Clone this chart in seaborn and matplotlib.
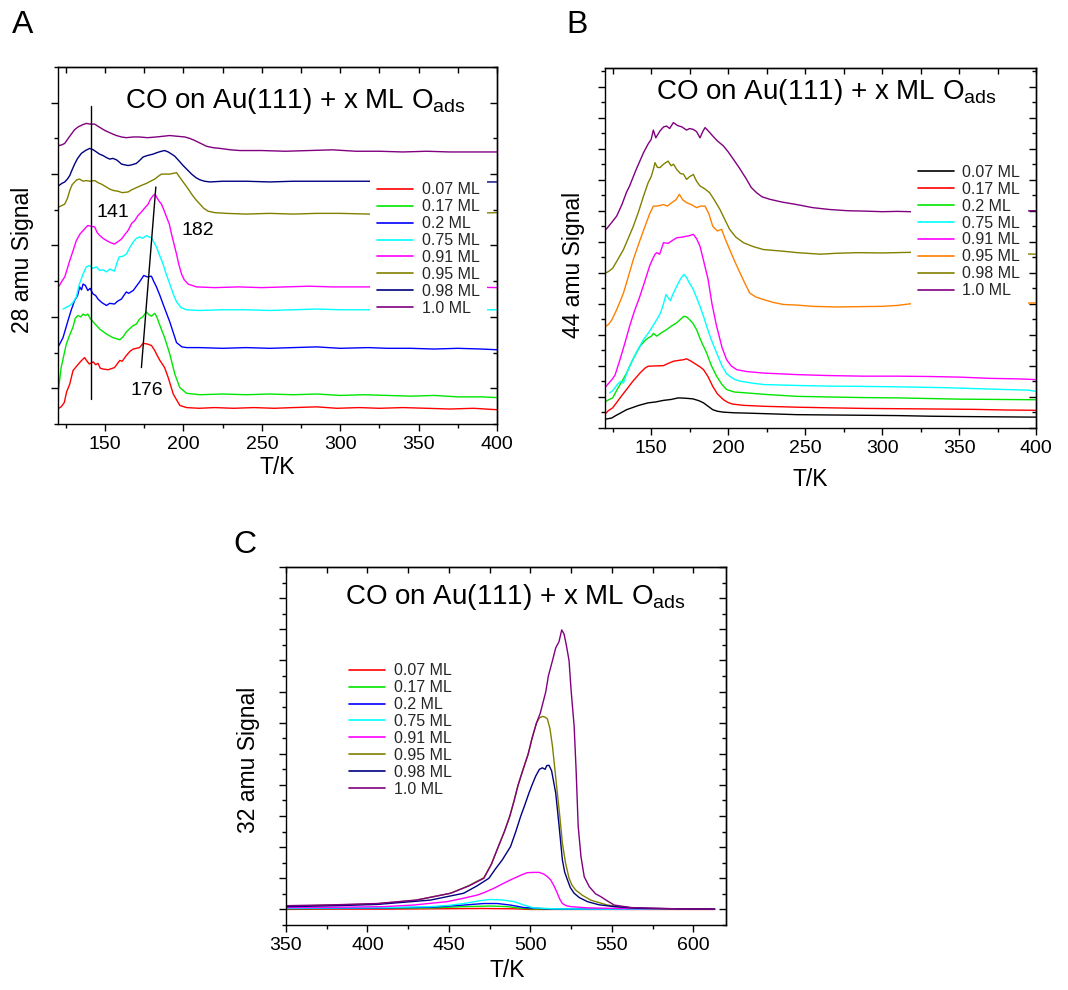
import matplotlib
matplotlib.use("Agg")
import matplotlib.pyplot as plt
from matplotlib.lines import Line2D
from matplotlib.ticker import MultipleLocator, NullFormatter
import pandas as pd
import seaborn as sns

# ---------------------------------------------------------------- data
COVERAGES = ["0.07 ML", "0.17 ML", "0.2 ML", "0.75 ML",
             "0.91 ML", "0.95 ML", "0.98 ML", "1.0 ML"]
COLORS_AC = ["#ff0000", "#00e600", "#0000ff", "#00ffff",
             "#ff00ff", "#808000", "#000080", "#800080"]
COLORS_B = ["#000000", "#ff0000", "#00e600", "#00ffff",
            "#ff00ff", "#ff8000", "#808000", "#800080"]

# Panel A: 28 amu (CO) desorption traces, (T/K, offset signal)
A_007 = [(120.5, -0.28), (122, -0.26), (124, -0.2), (125.5, -0.05), (127.5, 0.06), (129.6, 0.25),
         (131.5, 0.3), (133.8, 0.36), (135.5, 0.4), (137, 0.43), (138.5, 0.38), (140, 0.34),
         (142.5, 0.37), (144, 0.33), (145.5, 0.35), (147, 0.28), (148.7, 0.27), (152, 0.26),
         (156, 0.29), (159.4, 0.39), (161, 0.38), (163.6, 0.46), (166, 0.52), (168, 0.55),
         (172, 0.57), (174.3, 0.63), (177, 0.62), (179.6, 0.6), (181.7, 0.53), (183, 0.47),
         (185, 0.39), (188, 0.29), (190.3, 0.15), (193.5, -0.08), (197.7, -0.24), (202, -0.27),
         (210, -0.28), (220, -0.27), (232, -0.28), (245, -0.27), (258, -0.28), (270, -0.27),
         (285, -0.26), (298, -0.28), (312, -0.27), (325, -0.28), (340, -0.27), (355, -0.28),
         (370, -0.29), (385, -0.28), (400, -0.3)]
A_017 = [(120.3, -0.02), (122, 0.29), (125.3, 0.62), (127.5, 0.75), (129.6, 0.86), (131, 0.98),
         (132.8, 1.02), (134.5, 1.0), (136, 1.04), (137.5, 1.02), (139, 1.04), (140.5, 0.98),
         (142.4, 0.93), (144.5, 0.88), (146.6, 0.83), (150.9, 0.76), (155, 0.71), (159.4, 0.68),
         (161.5, 0.72), (163.6, 0.79), (166, 0.84), (168, 0.88), (170, 0.9), (172, 0.97),
         (174, 1.0), (176.4, 1.07), (178, 1.03), (179.6, 1.01), (181.7, 1.05), (183, 1.0),
         (185, 0.88), (188, 0.71), (191.3, 0.48), (194.5, 0.2), (197.7, 0.01), (202, -0.07),
         (210.5, -0.09), (225, -0.08), (240, -0.09), (255, -0.08), (270, -0.09), (285, -0.08),
         (300, -0.1), (315, -0.09), (330, -0.1), (345, -0.11), (360, -0.1), (375, -0.12),
         (390, -0.12), (400, -0.13)]
A_02 = [(120.6, 0.6), (123.2, 0.71), (126.4, 0.95), (128.5, 1.1), (130.6, 1.23), (132.5, 1.3),
        (133.8, 1.42), (135, 1.38), (136, 1.46), (137.5, 1.44), (139, 1.37), (140.5, 1.4),
        (142.4, 1.32), (144, 1.3), (145.5, 1.25), (148, 1.2), (150.9, 1.16), (153, 1.19),
        (156, 1.18), (158, 1.22), (160.5, 1.25), (162, 1.3), (163.6, 1.35), (165, 1.33),
        (168, 1.37), (170, 1.43), (172, 1.49), (174.7, 1.58), (177, 1.56), (179.6, 1.57),
        (181, 1.5), (182.8, 1.42), (185, 1.3), (187, 1.18), (191.3, 0.93), (195.6, 0.64),
        (199, 0.58), (202, 0.57), (210.5, 0.57), (225, 0.56), (240, 0.57), (255, 0.56),
        (270, 0.57), (285, 0.58), (300, 0.56), (318, 0.57), (330, 0.56), (345, 0.56),
        (360, 0.55), (375, 0.56), (390, 0.55), (400, 0.54)]
A_075 = [(123.2, 1.11), (125, 1.13), (127.5, 1.16), (129.5, 1.2), (131.7, 1.28), (133.5, 1.45),
         (136, 1.6), (138, 1.7), (140.2, 1.72), (142, 1.68), (144.5, 1.7), (146.5, 1.65),
         (148.7, 1.66), (151, 1.63), (153, 1.67), (156, 1.64), (157.5, 1.75), (159, 1.84),
         (161.5, 1.85), (163.6, 1.88), (166, 1.98), (168, 2.05), (170, 2.1), (172, 2.12),
         (174, 2.1), (176.4, 2.14), (178, 2.12), (179.6, 2.11), (181, 2.05), (182.8, 1.98),
         (185, 1.85), (187, 1.74), (189, 1.6), (191.3, 1.46), (193.5, 1.32), (195.6, 1.21),
         (198.5, 1.13), (202, 1.1), (210, 1.09), (225, 1.1), (240, 1.1), (255, 1.09),
         (270, 1.1), (285, 1.11), (300, 1.1), (318, 1.1), (340, 1.11), (360, 1.1),
         (380, 1.1), (400, 1.1)]
A_091 = [(120.6, 1.43), (122.5, 1.5), (124.3, 1.56), (126, 1.68), (127.5, 1.79), (129.5, 1.92),
         (131.7, 2.07), (134, 2.16), (136, 2.21), (139, 2.28), (141, 2.27), (143.4, 2.26),
         (145, 2.18), (146.6, 2.14), (148.7, 2.1), (150.9, 2.07), (153.5, 2.04), (156, 2.02),
         (158, 2.05), (160.5, 2.09), (162.5, 2.15), (164.7, 2.21), (167, 2.31), (169, 2.35),
         (171, 2.42), (173.2, 2.47), (175.5, 2.53), (177.5, 2.58), (179, 2.65), (180.7, 2.7),
         (182, 2.72), (182.8, 2.68), (184.5, 2.62), (186, 2.58), (187.5, 2.5), (189.2, 2.4),
         (191, 2.3), (192.4, 2.16), (194, 2.02), (195.6, 1.88), (197, 1.74), (198.8, 1.6),
         (200.5, 1.52), (203, 1.46), (208.4, 1.42), (220, 1.41), (235, 1.42), (250, 1.41),
         (265, 1.42), (280, 1.43), (295, 1.42), (318, 1.42), (340, 1.42), (360, 1.41),
         (380, 1.42), (400, 1.41)]
A_095 = [(120.6, 2.54), (122.5, 2.56), (124.3, 2.58), (126, 2.66), (127.5, 2.77), (129, 2.85),
         (130.6, 2.89), (132, 2.92), (133.8, 2.93), (136, 2.9), (138, 2.91), (140.5, 2.9),
         (143.4, 2.91), (145.5, 2.88), (147.7, 2.86), (150, 2.83), (153, 2.79), (155.5, 2.77),
         (158.3, 2.76), (161, 2.74), (164.7, 2.75), (167, 2.78), (170, 2.81), (173, 2.84),
         (176.4, 2.87), (179, 2.9), (181.7, 2.93), (184, 2.97), (186, 3.0), (188.5, 3.0),
         (191.3, 3.0), (193.5, 3.01), (195.6, 3.02), (197.5, 2.96), (199.8, 2.89), (202.5, 2.81),
         (205.2, 2.72), (208, 2.64), (210.5, 2.58), (213, 2.52), (215.8, 2.48), (220, 2.46),
         (227.5, 2.45), (240, 2.44), (255, 2.45), (270, 2.44), (285, 2.45), (300, 2.45),
         (318, 2.44), (340, 2.45), (360, 2.45), (380, 2.45), (400, 2.46)]
A_098 = [(120.6, 2.84), (122.5, 2.87), (124.3, 2.89), (126, 2.93), (127.5, 2.98), (129, 3.06),
         (130.6, 3.14), (132.5, 3.22), (134.9, 3.29), (137.5, 3.33), (140.2, 3.36), (142.5, 3.34),
         (144.5, 3.31), (146.5, 3.28), (148.7, 3.26), (151, 3.23), (153, 3.21), (155, 3.22),
         (157.3, 3.2), (159, 3.17), (160.5, 3.14), (162.5, 3.13), (164.7, 3.12), (167, 3.13),
         (170, 3.15), (172, 3.19), (174.3, 3.24), (177, 3.26), (180.7, 3.28), (183, 3.3),
         (186, 3.32), (188, 3.33), (190.3, 3.31), (192.5, 3.28), (194.5, 3.25), (197, 3.19),
         (199.8, 3.12), (202.5, 3.06), (205.2, 3.0), (208, 2.95), (210.5, 2.92), (213.5, 2.9),
         (216.9, 2.89), (225, 2.9), (240, 2.9), (255, 2.89), (270, 2.9), (285, 2.9),
         (300, 2.9), (318, 2.9), (340, 2.9), (360, 2.9), (380, 2.89), (400, 2.89)]
A_10 = [(120.6, 3.4), (122.5, 3.41), (124.3, 3.43), (126.5, 3.5), (128.5, 3.56), (130.5, 3.62),
        (132.8, 3.66), (135.5, 3.69), (138.1, 3.71), (140.5, 3.7), (143.4, 3.7), (145.5, 3.67),
        (147.7, 3.64), (150, 3.61), (152, 3.59), (155, 3.56), (157.3, 3.54), (160.5, 3.52),
        (163.6, 3.51), (168, 3.52), (172, 3.52), (177, 3.51), (182.8, 3.52), (187, 3.53),
        (191.3, 3.54), (196, 3.53), (200.9, 3.52), (204, 3.5), (207.3, 3.47), (211, 3.43),
        (214.7, 3.39), (219, 3.37), (223.3, 3.36), (230, 3.34), (236, 3.33), (250, 3.33),
        (265, 3.32), (280, 3.33), (295, 3.34), (310, 3.32), (325, 3.32), (340, 3.31),
        (355, 3.32), (370, 3.31), (385, 3.31), (400, 3.31)]

# Panel B: 44 amu (CO2) traces
B_007 = [(120.7, 0.29), (122, 0.3), (124.3, 0.32), (127, 0.4), (130, 0.48), (134, 0.59),
         (138, 0.66), (142, 0.73), (148, 0.81), (153, 0.84), (158, 0.89), (163, 0.92),
         (167.6, 0.97), (172, 0.96), (177, 0.94), (181, 0.88), (184, 0.81), (187, 0.7),
         (190, 0.59), (193, 0.54), (197, 0.51), (204, 0.49), (212, 0.48), (225, 0.46),
         (244.5, 0.43), (265, 0.42), (288, 0.41), (310, 0.4), (331, 0.38), (350, 0.37),
         (375, 0.36), (400, 0.35)]
B_017 = [(120.7, 0.48), (122, 0.55), (125, 0.65), (128, 0.85), (131, 1.05), (134, 1.24),
         (138, 1.5), (142.7, 1.77), (146, 1.93), (148, 1.99), (153, 2.0), (158, 2.01),
         (161, 2.08), (164.4, 2.15), (168, 2.18), (171, 2.2), (173, 2.23), (176, 2.15),
         (179.5, 2.04), (182, 1.96), (184, 1.88), (187, 1.65), (190, 1.34), (193, 1.1),
         (197, 0.91), (200, 0.82), (203, 0.77), (210, 0.73), (223, 0.7), (245, 0.67),
         (266, 0.65), (290, 0.63), (315, 0.62), (340, 0.61), (360, 0.6), (380, 0.58),
         (400, 0.57)]
B_02 = [(120.7, 0.86), (122, 0.9), (125, 0.97), (128, 1.25), (131, 1.5), (134, 1.77),
        (138, 2.2), (142.7, 2.63), (146, 2.82), (148, 2.9), (150, 2.95), (151.5, 3.05),
        (153.6, 2.96), (157, 3.08), (160, 3.17), (163, 3.28), (166.6, 3.39), (169, 3.5),
        (171.3, 3.6), (173, 3.58), (175, 3.49), (177, 3.38), (179.5, 3.17), (182, 2.85),
        (186, 2.42), (189, 2.02), (192.5, 1.67), (196, 1.4), (199, 1.24), (204, 1.16),
        (212, 1.13), (225, 1.08), (244.5, 1.02), (265, 1.0), (288, 0.98), (310, 0.97),
        (330, 0.95), (350, 0.93), (375, 0.92), (400, 0.91)]
B_075 = [(123, 1.13), (125, 1.2), (128, 1.4), (130, 1.5), (132, 1.45), (134, 1.75),
         (136, 1.99), (140, 2.4), (145, 2.85), (148, 3.05), (150, 3.2), (153.6, 3.49),
         (156, 3.7), (158, 4.0), (159.6, 4.3), (161, 4.2), (162.5, 4.1), (164, 4.3),
         (166.6, 4.57), (169, 4.8), (171.3, 4.95), (173, 4.85), (174.5, 4.7), (177.4, 4.46),
         (179.5, 4.2), (181.7, 3.92), (184, 3.6), (186, 3.28), (189, 2.85), (192.5, 2.42),
         (196, 2.0), (199, 1.75), (201, 1.67), (204, 1.57), (207.7, 1.51), (215, 1.45),
         (223, 1.4), (245, 1.37), (265, 1.35), (288, 1.34), (305, 1.33), (318, 1.32),
         (340, 1.3), (360, 1.27), (380, 1.24), (395, 1.22), (400, 1.18)]
B_091 = [(120.7, 1.34), (122.5, 1.45), (124.5, 1.56), (126.5, 1.7), (129.7, 2.2), (133, 2.75),
         (136, 3.28), (139, 3.75), (142.7, 4.25), (146, 4.75), (149, 5.22), (151, 5.45),
         (152.5, 5.6), (153.6, 5.65), (155.5, 5.6), (158, 5.97), (161, 5.95), (164, 6.05),
         (166.6, 6.13), (170, 6.15), (173, 6.18), (175, 6.2), (177.4, 6.24), (179.5, 6.1),
         (181.7, 5.86), (184, 5.4), (187, 4.78), (189.5, 4.0), (192.5, 3.28), (196, 2.6),
         (199, 2.2), (202, 2.0), (205.5, 1.88), (212, 1.82), (223, 1.77), (245, 1.72),
         (265, 1.69), (288, 1.67), (310, 1.67), (330, 1.66), (350, 1.64), (370, 1.6),
         (390, 1.58), (400, 1.56)]
B_095 = [(120.7, 3.28), (122.5, 3.35), (124.5, 3.49), (127, 3.75), (130, 4.1), (132, 4.35),
         (135, 4.85), (138.4, 5.43), (142, 5.95), (146, 6.5), (149, 6.9), (151.4, 7.15),
         (154, 7.15), (158, 7.2), (160.5, 7.15), (163.3, 7.26), (166, 7.35), (168.3, 7.53),
         (170.5, 7.35), (173, 7.26), (176, 7.2), (179.5, 7.1), (182, 7.15), (185, 7.15),
         (187.5, 6.9), (190, 6.5), (193, 6.35), (195.8, 6.4), (198, 6.1), (201, 5.75),
         (204, 5.4), (207.7, 5.0), (211, 4.65), (214, 4.35), (218, 4.22), (222.9, 4.14),
         (229, 4.05), (235.9, 3.98), (245, 3.96), (255, 3.92), (270, 3.9), (285, 3.91),
         (300, 3.92), (310, 3.95), (318, 4.0), (340, 4.0), (360, 4.01), (380, 4.02),
         (400, 4.03)]
B_098 = [(120.7, 5.0), (122.5, 5.05), (125, 5.15), (128, 5.4), (132, 5.75), (135, 6.1),
         (138.4, 6.5), (142, 7.0), (145, 7.47), (148, 7.9), (150, 8.1), (151.4, 8.33),
         (152.5, 8.55), (154, 8.4), (155.7, 8.39), (158, 8.5), (161, 8.6), (163, 8.45),
         (164.5, 8.5), (166.6, 8.33), (169, 8.2), (171, 8.18), (173, 8.01), (175, 8.1),
         (177.4, 8.17), (179.5, 7.95), (181.7, 7.8), (185, 7.7), (188, 7.58), (191, 7.35),
         (194.7, 7.04), (198, 6.7), (201, 6.4), (205, 6.15), (210, 5.97), (216, 5.85),
         (222.9, 5.75), (235, 5.7), (245, 5.65), (260, 5.6), (270, 5.63), (285, 5.65),
         (300, 5.64), (318, 5.66), (340, 5.65), (360, 5.64), (380, 5.63), (400, 5.6)]
B_10 = [(120.7, 6.4), (124, 6.6), (127.6, 6.83), (131, 7.2), (134, 7.6), (136, 7.8),
        (140, 8.3), (145, 8.87), (148, 9.15), (150, 9.3), (151.4, 9.6), (153, 9.35),
        (155.7, 9.57), (158, 9.7), (160, 9.73), (162, 9.65), (164.4, 9.84), (167, 9.75),
        (170, 9.7), (173, 9.6), (175, 9.65), (177.4, 9.62), (179.5, 9.55), (181.7, 9.35),
        (183.5, 9.55), (185, 9.68), (187.5, 9.55), (190, 9.41), (193, 9.25), (196.9, 9.09),
        (200, 8.9), (203.4, 8.66), (207, 8.4), (212, 8.01), (215, 7.75), (218.5, 7.58),
        (222, 7.45), (227, 7.37), (235, 7.28), (244.5, 7.2), (255, 7.1), (266, 7.04),
        (278, 7.0), (288, 6.99), (300, 6.97), (310, 6.98), (318, 6.97), (340, 6.97),
        (360, 6.98), (380, 6.99), (400, 7.0)]

# Panel C: 32 amu (O2) traces
C_007 = [(350, 0.0), (380, 0.01), (410, 0.01), (440, 0.02), (470, 0.03), (490, 0.02),
         (500, 0.0), (520, 0.0), (550, 0.0), (580, 0.0), (613, 0.0)]
C_017 = [(350, 0.02), (380, 0.03), (410, 0.04), (440, 0.05), (459, 0.09), (468, 0.1),
         (475.5, 0.11), (485.8, 0.09), (492, 0.05), (500, 0.02), (520, 0.01), (560, 0.01),
         (613, 0.01)]
C_02 = [(350, 0.03), (380, 0.04), (410, 0.05), (438.6, 0.07), (459, 0.14), (471.4, 0.19),
        (479.6, 0.19), (487.8, 0.14), (496, 0.06), (510, 0.02), (540, 0.01), (580, 0.01),
        (613, 0.01)]
C_075 = [(350, 0.04), (380, 0.05), (410, 0.06), (438.6, 0.09), (450, 0.13), (459, 0.19),
         (469, 0.28), (475.5, 0.32), (483.7, 0.3), (490, 0.25), (496, 0.14), (502, 0.05),
         (515, 0.02), (550, 0.01), (613, 0.01)]
C_091 = [(350, 0.06), (380, 0.07), (410, 0.09), (428, 0.14), (448.9, 0.25), (458, 0.35),
         (467.3, 0.46), (472, 0.55), (477.6, 0.68), (482, 0.8), (487.8, 0.95), (492, 1.05),
         (495, 1.12), (498, 1.18), (502, 1.19), (505.3, 1.19), (508, 1.14), (510, 1.07),
         (512.4, 0.95), (514.5, 0.75), (516.5, 0.52), (518, 0.33), (519.6, 0.19), (522, 0.12),
         (524.7, 0.09), (535, 0.05), (555, 0.03), (580, 0.02), (613, 0.01)]
C_095 = [(350, 0.1), (380, 0.14), (405.8, 0.18), (430, 0.3), (451, 0.52), (462, 0.76),
         (471.4, 1.02), (476, 1.45), (480.3, 2.02), (484, 2.5), (487.3, 2.99), (490, 3.5),
         (492.4, 3.99), (495.5, 4.5), (498.6, 4.99), (501, 5.5), (503.7, 5.99), (505.5, 6.15),
         (507.3, 6.2), (509, 6.18), (510.4, 6.12), (512, 5.8), (513.5, 5.25), (515, 4.5),
         (516.5, 3.74), (518, 3.0), (519.6, 2.13), (521.5, 1.5), (523.7, 1.0), (525.5, 0.78),
         (527.8, 0.62), (532, 0.45), (537, 0.3), (542, 0.22), (547.3, 0.14), (555, 0.08),
         (570, 0.03), (590, 0.02), (613, 0.01)]
C_098 = [(350, 0.09), (380, 0.12), (405.8, 0.16), (438.6, 0.3), (459, 0.52), (467, 0.75),
         (474.5, 1.0), (478.5, 1.3), (482.7, 1.59), (487.8, 2.02), (491, 2.5), (494, 2.99),
         (496.5, 3.35), (499.1, 3.74), (501, 4.0), (503.2, 4.28), (505.5, 4.5), (507.3, 4.55),
         (509, 4.5), (510, 4.62), (511.4, 4.63), (513, 4.45), (515.5, 3.74), (517.6, 2.67),
         (519.6, 1.59), (521, 1.2), (522.7, 0.95), (524.5, 0.7), (526.8, 0.52), (530, 0.38),
         (535, 0.25), (542, 0.15), (551.4, 0.09), (565, 0.04), (590, 0.02), (613, 0.01)]
C_10 = [(350, 0.12), (380, 0.15), (405.8, 0.19), (430, 0.3), (451, 0.52), (462, 0.75),
        (471.4, 1.0), (476, 1.45), (480.3, 2.02), (484, 2.5), (487.3, 2.99), (490, 3.5),
        (492.4, 3.99), (495.5, 4.5), (498.6, 4.99), (501, 5.5), (503.7, 5.99), (506, 6.3),
        (509.4, 6.99), (511, 7.5), (513.5, 7.99), (515.5, 8.4), (517.5, 8.6), (519.2, 8.98),
        (520.6, 8.85), (522, 8.5), (523.7, 7.99), (525, 7.0), (526.8, 5.9), (528, 4.5),
        (529.3, 2.67), (531, 1.7), (533, 1.05), (536.1, 0.73), (540, 0.5), (543.2, 0.41),
        (547, 0.28), (551.4, 0.14), (561.7, 0.06), (575, 0.04), (590, 0.02), (613, 0.01)]

PEAK_LINE_T = 141            # vertical guide through the low-T peak
SHIFT_LINE = [(173.2, 0.29), (182.4, 2.82)]   # guide following the 176 -> 182 K peak shift
PEAK_LABELS = [("141", 155, 2.46), ("182", 209, 2.21), ("176", 176.8, -0.03)]

TITLE = r"CO on Au(111) + x ML O$_{\mathrm{ads}}$"

# ---------------------------------------------------------------- style
sns.set_theme(style="ticks")
plt.rcParams["font.family"] = ["Liberation Sans", "DejaVu Sans"]
plt.rcParams["mathtext.fontset"] = "custom"
plt.rcParams["mathtext.rm"] = "Liberation Sans"
plt.rcParams["mathtext.it"] = "Liberation Sans:italic"
plt.rcParams["mathtext.bf"] = "Liberation Sans:bold"
plt.rcParams["axes.linewidth"] = 1.0

W, H = 1068, 990
fig = plt.figure(figsize=(W / 100, H / 100), dpi=100)


def px_axes(left, top, right, bottom):
    return fig.add_axes([left / W, 1 - bottom / H, (right - left) / W, (bottom - top) / H])


def to_frame(series):
    rows = [(label, t, s) for label, pts in zip(COVERAGES, series) for t, s in pts]
    return pd.DataFrame(rows, columns=["coverage", "T", "signal"])


def draw_panel(ax, series, colors, xlim, ylim, xmajor, xminor):
    df = to_frame(series)
    sns.lineplot(data=df, x="T", y="signal", hue="coverage", hue_order=COVERAGES,
                 palette=dict(zip(COVERAGES, colors)), estimator=None, sort=True,
                 linewidth=1.0, legend=False, ax=ax)
    ax.set_xlim(*xlim)
    ax.set_ylim(*ylim)
    for axis, maj, mnr in ((ax.xaxis, xmajor, xminor), (ax.yaxis, 1, 0.5)):
        axis.set_major_locator(MultipleLocator(maj))
        axis.set_minor_locator(MultipleLocator(mnr))
    ax.yaxis.set_major_formatter(NullFormatter())
    ax.tick_params(which="major", direction="out", length=4.8, width=1.0,
                   labelsize=14, pad=3.5, color="black", labelcolor="black")
    ax.tick_params(which="minor", direction="out", length=2.6, width=1.0, color="black")
    for sp in ax.spines.values():
        sp.set_visible(True)
        sp.set_color("black")
        sp.set_linewidth(1.0)
    # inward ticks on the top and right frame edges
    top = ax.secondary_xaxis("top")
    top.xaxis.set_major_locator(MultipleLocator(xmajor))
    top.xaxis.set_minor_locator(MultipleLocator(xminor))
    top.xaxis.set_major_formatter(NullFormatter())
    top.tick_params(which="both", direction="in", length=4.0, width=1.0, color="black")
    right = ax.secondary_yaxis("right")
    right.yaxis.set_major_locator(MultipleLocator(1))
    right.yaxis.set_minor_locator(MultipleLocator(0.5))
    right.yaxis.set_major_formatter(NullFormatter())
    right.tick_params(which="major", direction="in", length=4.8, width=1.0, color="black")
    right.tick_params(which="minor", direction="in", length=2.6, width=1.0, color="black")
    ax.grid(False)


def add_legend(ax, colors, anchor):
    handles = [Line2D([], [], color=c, lw=1.2) for c in colors]
    leg = ax.legend(handles, COVERAGES, loc="upper left", bbox_to_anchor=anchor,
                    frameon=True, fancybox=False, framealpha=1.0, facecolor="white",
                    edgecolor="none", fontsize=11.5, handlelength=2.25, handletextpad=0.55,
                    labelspacing=0.12, borderpad=0.45, borderaxespad=0.0)
    leg.set_zorder(5)


def set_labels(ax, ylabel, ypos, xpos):
    ax.set_ylabel(ylabel, fontsize=16.5, va="center", color="black")
    ax.yaxis.set_label_coords(*ypos)
    ax.set_xlabel("T/K", fontsize=16.5, va="center", color="black")
    ax.xaxis.set_label_coords(*xpos)


# ---------------------------------------------------------------- panel A
axA = px_axes(58, 67, 497, 424)
draw_panel(axA, [A_007, A_017, A_02, A_075, A_091, A_095, A_098, A_10], COLORS_AC,
           (120, 400), (-0.5, 4.5), 50, 25)
axA.plot([PEAK_LINE_T, PEAK_LINE_T], [-0.15, 3.95], color="black", lw=1.0)
axA.plot([p[0] for p in SHIFT_LINE], [p[1] for p in SHIFT_LINE], color="black", lw=1.0)
for txt, tx, ty in PEAK_LABELS:
    axA.text(tx, ty, txt, fontsize=14, ha="center", va="center", color="black")
axA.text(271.6, 3.92, TITLE, fontsize=20, ha="center", va="baseline", color="black")
add_legend(axA, COLORS_AC, (0.711, 0.697))
set_labels(axA, "28 amu Signal", (-0.081, 0.459), (0.499, -0.123))

# ---------------------------------------------------------------- panel B
axB = px_axes(605, 68, 1036, 428)
draw_panel(axB, [B_007, B_017, B_02, B_075, B_091, B_095, B_098, B_10], COLORS_B,
           (120, 400), (0, 11.6), 50, 25)
axB.text(264, 10.61, TITLE, fontsize=20, ha="center", va="baseline", color="black")
add_legend(axB, COLORS_B, (0.709, 0.751))
set_labels(axB, "44 amu Signal", (-0.072, 0.453), (0.476, -0.144))

# ---------------------------------------------------------------- panel C
axC = px_axes(286, 567, 726, 925)
draw_panel(axC, [C_007, C_017, C_02, C_075, C_091, C_095, C_098, C_10], COLORS_AC,
           (350, 620), (-0.5, 11.0), 50, 25)
axC.text(490.9, 9.8, TITLE, fontsize=20, ha="center", va="baseline", color="black")
add_legend(axC, COLORS_AC, (0.127, 0.751))
set_labels(axC, "32 amu Signal", (-0.086, 0.461), (0.502, -0.128))

# ---------------------------------------------------------------- panel letters
for letter, x, y in (("A", 23, 25), ("B", 577, 25), ("C", 245, 545)):
    fig.text(x / W, 1 - y / H, letter, fontsize=23, ha="center", va="center", color="black")

fig.savefig("out.png", dpi=100, facecolor="white")
